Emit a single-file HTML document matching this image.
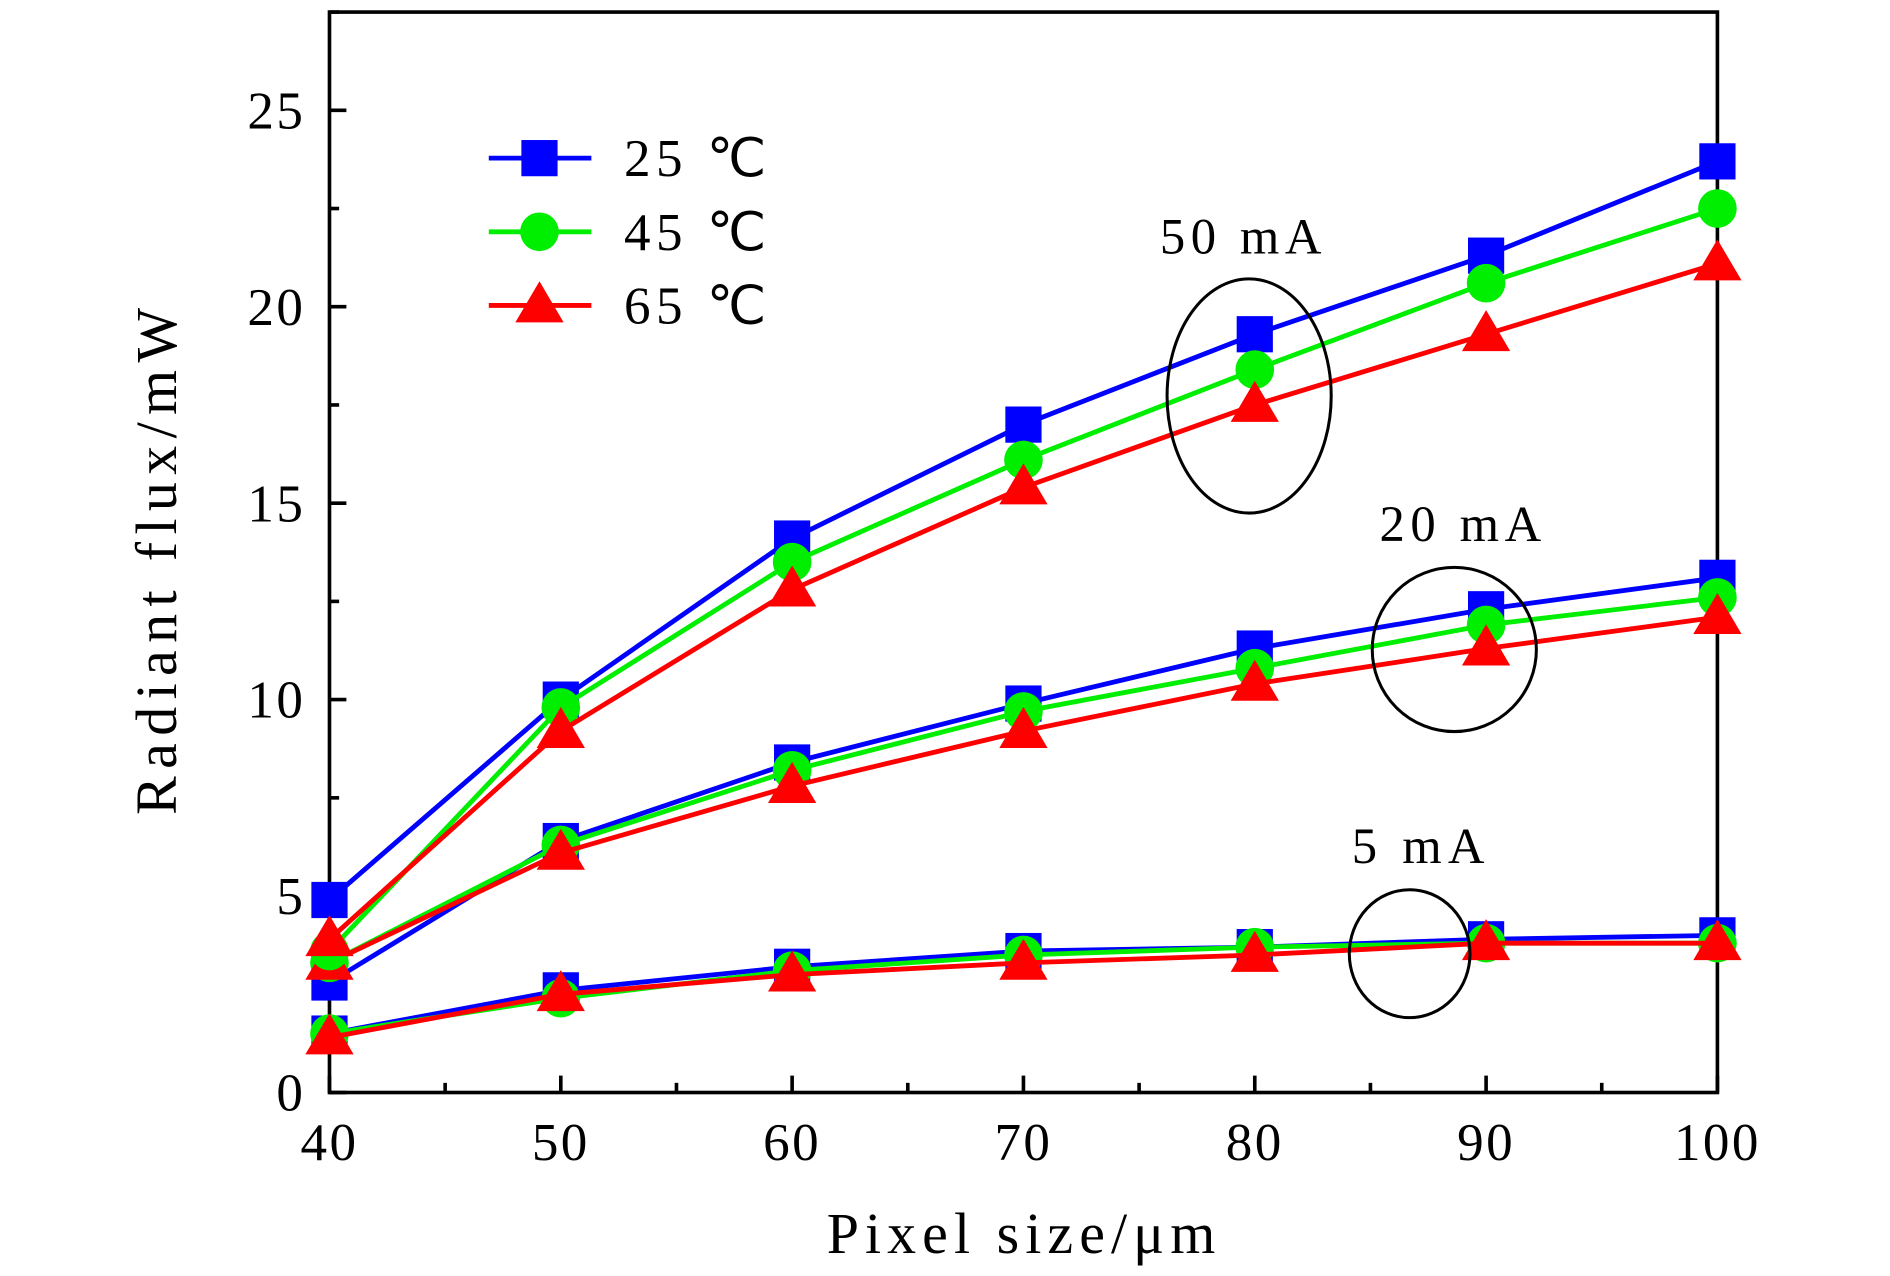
<!DOCTYPE html>
<html><head><meta charset="utf-8"><style>html,body{margin:0;padding:0;background:#fff}svg{display:block}</style></head>
<body>
<svg id="chart" width="1890" height="1276" viewBox="0 0 1566 1057" preserveAspectRatio="none" xmlns="http://www.w3.org/2000/svg" font-family="'Liberation Serif', serif"></svg>
<script>
const categories=[40,50,60,70,80,90,100];
const xTicks=[40,50,60,70,80,90,100];
const yTicks=[0,5,10,15,20,25];
const s50_25=[4.9,10.0,14.1,17.0,19.3,21.3,23.7];
const s50_45=[3.6,9.8,13.5,16.1,18.4,20.6,22.5];
const s50_65=[3.9,9.2,12.8,15.4,17.5,19.3,21.1];
const s20_25=[2.8,6.4,8.4,9.9,11.3,12.3,13.1];
const s20_45=[3.3,6.3,8.2,9.7,10.8,11.9,12.6];
const s20_65=[3.3,6.1,7.8,9.2,10.4,11.3,12.1];
const s5_25=[1.5,2.6,3.2,3.6,3.7,3.9,4.0];
const s5_45=[1.5,2.4,3.1,3.5,3.7,3.8,3.8];
const s5_65=[1.4,2.5,3.0,3.3,3.5,3.8,3.8];
const legendLabels=["25 ℃","45 ℃","65 ℃"];

const NS="http://www.w3.org/2000/svg";
const svg=document.getElementById('chart');
const L=273,R=1423,T=10,B=905;
const X=v=>L+(v-40)/60*(R-L);
const Y=v=>B-v/27.5*(B-T);
function mk(tag,attrs,parent){const e=document.createElementNS(NS,tag);for(const k in attrs)e.setAttribute(k,attrs[k]);(parent||svg).appendChild(e);return e;}

const frame=mk('rect',{x:L,y:T,width:R-L,height:B-T,fill:'none',stroke:'#000','stroke-width':3});



for(let v=0;v<=27.5;v+=2.5){const maj=v%5===0;const t=mk('line',{x1:L,x2:L+(maj?14:8),y1:Y(v),y2:Y(v),stroke:'#000','stroke-width':3});

}
yTicks.forEach(v=>{const t=mk('text',{x:L-20,y:Y(v)+15,'text-anchor':'end','font-size':44,'letter-spacing':2});t.textContent=v;

});
for(let v=40;v<=100;v+=5){const maj=v%10===0;const t=mk('line',{x1:X(v),x2:X(v),y1:B,y2:B-(maj?14:8),stroke:'#000','stroke-width':3});

}
xTicks.forEach(v=>{const t=mk('text',{x:X(v),y:B+56,'text-anchor':'middle','font-size':44,'letter-spacing':2});t.textContent=v;

});
const xt=mk('text',{x:(L+R)/2-2,y:1038,'text-anchor':'middle','font-size':48,textLength:322,lengthAdjust:'spacing'});xt.textContent='Pixel size/μm';


const yt=mk('text',{x:0,y:0,'text-anchor':'middle','font-size':48,textLength:420,lengthAdjust:'spacing',transform:'translate(146,465) rotate(-90)'});yt.textContent='Radiant flux/mW';



function marker(type,cx,cy,color,name){let e;
if(type==='sq')e=mk('rect',{x:cx-15,y:cy-15,width:30,height:30,fill:color});
else if(type==='ci')e=mk('circle',{cx:cx,cy:cy,r:16,fill:color});
else e=mk('polygon',{points:`${cx},${cy-20} ${cx+20},${cy+14} ${cx-20},${cy+14}`,fill:color});

}
function series(data,color,type,name){
const p=mk('polyline',{points:data.map((v,i)=>X(categories[i])+','+Y(v)).join(' '),fill:'none',stroke:color,'stroke-width':4});


data.forEach((v,i)=>marker(type,X(categories[i]),Y(v),color,name+'-point'));}
const B_='#0000ff',G_='#00ee00',R_='#ff0000';
series(s5_25,B_,'sq','5ma-25c');series(s5_45,G_,'ci','5ma-45c');series(s5_65,R_,'tr','5ma-65c');
series(s20_25,B_,'sq','20ma-25c');series(s20_45,G_,'ci','20ma-45c');series(s20_65,R_,'tr','20ma-65c');
series(s50_25,B_,'sq','50ma-25c');series(s50_45,G_,'ci','50ma-45c');series(s50_65,R_,'tr','50ma-65c');

[[1035,328,68,97,'50 mA',1028,210,'50ma',134],[1205,538,68,68,'20 mA',1210,448,'20ma',134],[1168,790,50,53,'5 mA',1175,715,'5ma',110]].forEach(a=>{
const e=mk('ellipse',{cx:a[0],cy:a[1],rx:a[2],ry:a[3],fill:'none',stroke:'#000','stroke-width':2.5});


const t=mk('text',{x:a[5],y:a[6],'text-anchor':'middle','font-size':42,textLength:a[8],lengthAdjust:'spacing'});t.textContent=a[4];

});

const lc=[B_,G_,R_],lt=['sq','ci','tr'];
legendLabels.forEach((lab,i)=>{const y=131+i*61;
const l=mk('line',{x1:405,x2:490,y1:y,y2:y,stroke:lc[i],'stroke-width':4});


marker(lt[i],447,y,lc[i],'legend-marker');
const t=mk('text',{x:517,y:y+15,'font-size':44,textLength:118,lengthAdjust:'spacing'});t.textContent=lab;

});
</script>
</body></html>
